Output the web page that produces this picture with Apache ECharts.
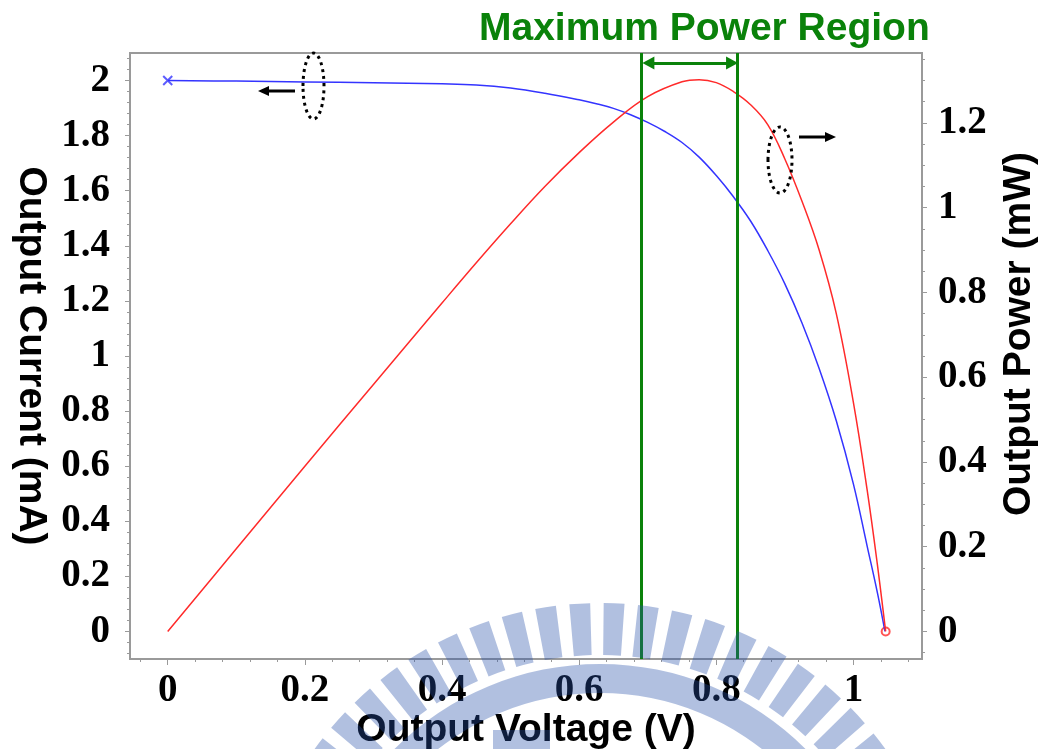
<!DOCTYPE html>
<html>
<head>
<meta charset="utf-8">
<title>Output current / power vs output voltage</title>
<script src="https://cdn.jsdelivr.net/npm/echarts@6/dist/echarts.min.js"></script>
<style>
  html, body { margin: 0; padding: 0; background: #fff; }
  #myChart { width: 1047px; height: 749px; }
</style>
</head>
<body>
<div id="myChart"></div>
<script>
// I-V curve, left axis (mA)
const voltageI = [0, 0.1, 0.2, 0.3, 0.4, 0.45, 0.5, 0.55, 0.6, 0.625, 0.65, 0.675, 0.7, 0.725, 0.75, 0.775, 0.8, 0.825, 0.85, 0.875, 0.9, 0.925, 0.95, 0.975, 1.0, 1.02, 1.035, 1.046];
const current  = [2.0, 1.998, 1.995, 1.992, 1.988, 1.984, 1.973, 1.954, 1.93, 1.916, 1.899, 1.876, 1.848, 1.815, 1.775, 1.722, 1.655, 1.578, 1.49, 1.383, 1.262, 1.12, 0.955, 0.765, 0.535, 0.31, 0.14, 0];

// P-V curve, right axis (mW)
const voltageP = [0, 0.1, 0.2, 0.3, 0.4, 0.45, 0.5, 0.55, 0.6, 0.65, 0.7, 0.75, 0.775, 0.8, 0.825, 0.85, 0.875, 0.9, 0.925, 0.95, 0.975, 1.0, 1.02, 1.035, 1.047];
const power    = [0, 0.195, 0.39, 0.583, 0.775, 0.87, 0.962, 1.05, 1.13, 1.202, 1.262, 1.297, 1.302, 1.295, 1.274, 1.243, 1.196, 1.115, 1.015, 0.9, 0.75, 0.54, 0.334, 0.157, 0];

// tick labels
const voltageTicks = [0, 0.2, 0.4, 0.6, 0.8, 1];
const currentTicks = [0, 0.2, 0.4, 0.6, 0.8, 1, 1.2, 1.4, 1.6, 1.8, 2];
const powerTicks   = [0, 0.2, 0.4, 0.6, 0.8, 1, 1.2];

// edges of the maximum power region (V)
const regionBounds = [0.692, 0.832];

function steps(from, to, step) {
  const out = [];
  for (let v = from; v <= to + 1e-9; v += step) out.push(Math.round(v * 1e6) / 1e6);
  return out;
}

const green = '#0a820a';
const frame = '#9a9a9a';
const tickFont = { fontFamily: 'Liberation Serif', fontWeight: 'bold', fontSize: 39, color: '#000' };
const nameFont = { fontFamily: 'Liberation Sans', fontWeight: 'bold', fontSize: 39, color: '#000' };

// faint school emblem watermark (ring of spokes + band)
const mark = 'rgba(40,80,170,0.36)';
const wmX = 600, wmY = 955;
const watermark = [];
for (let a = 30; a < 152; a += 5.6) {
  watermark.push({
    type: 'sector', silent: true, z: 200,
    shape: { cx: wmX, cy: wmY, r0: 300, r: 352, startAngle: -(a + 3.4) * Math.PI / 180, endAngle: -a * Math.PI / 180, clockwise: true },
    style: { fill: mark }
  });
}
watermark.push(
  { type: 'ring', silent: true, z: 200, shape: { cx: wmX, cy: wmY, r0: 262, r: 291 }, style: { fill: mark } },
  { type: 'rect', silent: true, z: 200, shape: { x: 493, y: 730, width: 57, height: 19 }, style: { fill: mark } }
);

const chart = echarts.init(document.getElementById('myChart'));

chart.setOption({
  animation: false,
  title: {
    text: 'Maximum Power Region',
    left: 474,
    top: 5,
    textStyle: { fontFamily: 'Liberation Sans', fontWeight: 'bold', fontSize: 39, color: green }
  },
  grid: {
    left: 130, right: 125, top: 53, bottom: 90,
    outerBoundsMode: 'none',
    show: true, borderColor: frame, borderWidth: 2
  },
  xAxis: [
    {
      type: 'value', min: -0.055, max: 1.1,
      name: 'Output Voltage (V)', nameLocation: 'middle', nameGap: 52, nameMoveOverlap: false, nameTextStyle: nameFont,
      axisLine: { onZero: false, lineStyle: { color: frame, width: 2 } },
      axisTick: { customValues: voltageTicks, length: 6, lineStyle: { color: frame } },
      axisLabel: { customValues: voltageTicks, margin: 12, ...tickFont },
      splitLine: { show: false }
    },
    {
      type: 'value', min: -0.055, max: 1.1, position: 'bottom',
      axisLine: { show: false, onZero: false },
      axisTick: { customValues: steps(-0.04, 1.08, 0.04), length: 3, lineStyle: { color: frame } },
      axisLabel: { show: false },
      splitLine: { show: false }
    }
  ],
  yAxis: [
    {
      type: 'value', min: -0.1, max: 2.1, position: 'left',
      name: 'Output Current (mA)', nameLocation: 'middle', nameGap: 80, nameRotate: -90, nameTextStyle: nameFont,
      axisLine: { show: true, onZero: false, lineStyle: { color: frame, width: 2 } },
      axisTick: { customValues: currentTicks, length: 5, lineStyle: { color: frame } },
      axisLabel: { customValues: currentTicks, margin: 20, ...tickFont },
      splitLine: { show: false }
    },
    {
      type: 'value', min: -0.065, max: 1.365, position: 'right',
      name: 'Output Power (mW)', nameLocation: 'middle', nameGap: 78,
      nameTextStyle: { ...nameFont, padding: [0, 0, 0, 44] },
      axisLine: { show: true, onZero: false, lineStyle: { color: frame, width: 2 } },
      axisTick: { customValues: powerTicks, length: 5, lineStyle: { color: frame } },
      axisLabel: { customValues: powerTicks, margin: 16, ...tickFont },
      splitLine: { show: false }
    },
    {
      type: 'value', min: -0.1, max: 2.1, position: 'left',
      axisLine: { show: false, onZero: false },
      axisTick: { customValues: steps(-0.08, 2.08, 0.04), length: 3, lineStyle: { color: frame } },
      axisLabel: { show: false },
      splitLine: { show: false }
    },
    {
      type: 'value', min: -0.065, max: 1.365, position: 'right',
      axisLine: { show: false, onZero: false },
      axisTick: { customValues: steps(-0.05, 1.35, 0.05), length: 3, lineStyle: { color: frame } },
      axisLabel: { show: false },
      splitLine: { show: false }
    }
  ],
  series: [
    {
      name: 'Output Current',
      type: 'line', xAxisIndex: 0, yAxisIndex: 0,
      data: voltageI.map((v, i) => [v, current[i]]),
      showSymbol: false, smooth: 0.4,
      lineStyle: { color: '#3434ff', width: 1.5 },
      markLine: {
        silent: true,
        symbol: ['triangle', 'triangle'], symbolSize: [13, 12],
        label: { show: false },
        lineStyle: { color: green, width: 3, type: 'solid' },
        data: [[{ coord: [regionBounds[0] + 0.009, 2.064] }, { coord: [regionBounds[1] - 0.009, 2.064] }]]
      }
    },
    {
      name: 'Output Power',
      type: 'line', xAxisIndex: 0, yAxisIndex: 1,
      data: voltageP.map((v, i) => [v, power[i]]),
      showSymbol: false, smooth: 0.4,
      lineStyle: { color: '#ff2a2a', width: 1.5 },
      markLine: {
        silent: true, symbol: 'none',
        label: { show: false },
        lineStyle: { color: green, width: 3, type: 'solid' },
        data: regionBounds.map(v => ({ xAxis: v }))
      }
    },
    {
      type: 'scatter', xAxisIndex: 0, yAxisIndex: 0,
      data: [[voltageI[0], current[0]]],
      symbol: 'path://M0,0L10,10M10,0L0,10', symbolSize: 9,
      itemStyle: { color: 'none', borderColor: '#3434ff', borderWidth: 2 }
    },
    {
      type: 'scatter', xAxisIndex: 0, yAxisIndex: 1,
      data: [[voltageP[voltageP.length - 1], power[power.length - 1]]],
      symbol: 'emptyCircle', symbolSize: 8,
      itemStyle: { color: '#ff2a2a', borderWidth: 1.5 }
    }
  ],
  graphic: [
    // dotted ellipses + arrows telling which axis each curve belongs to
    { type: 'ellipse', shape: { cx: 313.5, cy: 86, rx: 10.5, ry: 33 }, style: { fill: 'none', stroke: '#000', lineWidth: 3, lineDash: [3, 4] }, z: 100 },
    { type: 'ellipse', shape: { cx: 780, cy: 160, rx: 12, ry: 33 }, style: { fill: 'none', stroke: '#000', lineWidth: 3, lineDash: [3, 4] }, z: 100 },
    { type: 'line', shape: { x1: 295, y1: 91, x2: 267, y2: 91 }, style: { stroke: '#000', lineWidth: 3 }, z: 100 },
    { type: 'polygon', shape: { points: [[258, 91], [269, 86], [269, 96]] }, style: { fill: '#000' }, z: 100 },
    { type: 'line', shape: { x1: 799, y1: 137, x2: 827, y2: 137 }, style: { stroke: '#000', lineWidth: 3 }, z: 100 },
    { type: 'polygon', shape: { points: [[836, 137], [825, 132], [825, 142]] }, style: { fill: '#000' }, z: 100 }
  ].concat(watermark)
});
</script>
</body>
</html>
